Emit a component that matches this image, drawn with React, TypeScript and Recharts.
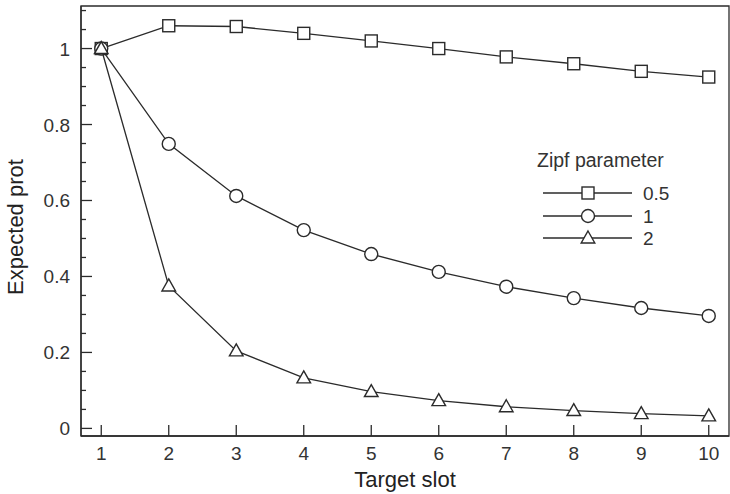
import React from "react";
import { LineChart, Line, XAxis, YAxis, ReferenceArea } from "recharts";

const slots = [1, 2, 3, 4, 5, 6, 7, 8, 9, 10];
const zipf05 = [1.0, 1.06, 1.058, 1.04, 1.02, 1.0, 0.978, 0.96, 0.94, 0.925];
const zipf1 = [1.0, 0.749, 0.612, 0.522, 0.459, 0.412, 0.373, 0.343, 0.317, 0.296];
const zipf2 = [1.0, 0.375, 0.204, 0.133, 0.097, 0.073, 0.057, 0.047, 0.039, 0.033];

const yLabels = [0, 0.2, 0.4, 0.6, 0.8, 1];
const yTicks = [0, 0.05, 0.1, 0.15, 0.2, 0.25, 0.3, 0.35, 0.4, 0.45, 0.5, 0.55, 0.6, 0.65, 0.7, 0.75, 0.8, 0.85, 0.9, 0.95, 1, 1.05, 1.1];
const seriesNames = ["0.5", "1", "2"];

const data = slots.map((s, i) => ({ slot: s, a: zipf05[i], b: zipf1[i], c: zipf2[i] }));

const INK = "#2b2b2b";
const FONT = "'Liberation Sans', Arial, sans-serif";

type Shape = "square" | "circle" | "triangle";

function marker(shape: Shape, cx: number, cy: number, key?: string | number) {
  const p = { fill: "#fff", stroke: INK, strokeWidth: 1.4 };
  if (shape === "square") return <rect key={key} x={cx - 6} y={cy - 6} width={12} height={12} {...p} />;
  if (shape === "circle") return <circle key={key} cx={cx} cy={cy} r={6.5} {...p} />;
  return <polygon key={key} points={`${cx},${cy - 7} ${cx + 6.8},${cy + 5} ${cx - 6.8},${cy + 5}`} {...p} />;
}

const dotFor = (shape: Shape) => (props: any) => marker(shape, props.cx, props.cy, props.key ?? props.index);

function YTick(props: any) {
  const { x, y, payload } = props;
  const v = payload.value;
  const major = yLabels.some((l) => Math.abs(l - v) < 1e-6);
  return (
    <g>
      <line x1={x} x2={x + (major ? 11 : 5)} y1={y} y2={y} stroke={INK} strokeWidth={1.3} />
      {major && (
        <text x={x - 11} y={y + 7} textAnchor="end" fontSize={19} fill="#333" fontFamily={FONT}>
          {v}
        </text>
      )}
    </g>
  );
}

function XTick(props: any) {
  const { x, y, payload } = props;
  return (
    <g>
      <line x1={x} x2={x} y1={y} y2={y - 11} stroke={INK} strokeWidth={1.3} />
      <text x={x} y={y + 24} textAnchor="middle" fontSize={19} fill="#333" fontFamily={FONT}>
        {payload.value}
      </text>
    </g>
  );
}

function LegendBox() {
  const shapes: Shape[] = ["square", "circle", "triangle"];
  const rows = [44, 67, 89];
  return (
    <svg width={195} height={110} style={{ position: "absolute", left: 530, top: 149 }}>
      <text x={7} y={18} fontSize={19.5} fill="#333" fontFamily={FONT}>Zipf parameter</text>
      {shapes.map((s, i) => (
        <g key={s}>
          <line x1={13} x2={102} y1={rows[i]} y2={rows[i]} stroke={INK} strokeWidth={1.3} />
          {marker(s, 58, rows[i])}
          <text x={113} y={rows[i] + 7} fontSize={19} fill="#333" fontFamily={FONT}>{seriesNames[i]}</text>
        </g>
      ))}
    </svg>
  );
}

export default function App() {
  return (
    <div style={{ position: "absolute", left: 0, top: 0, width: 730, height: 494, background: "#fff" }}>
      <LineChart width={730} height={494} data={data} margin={{ top: 6, right: 1, left: 0, bottom: 0 }}>
        <XAxis
          dataKey="slot"
          type="number"
          domain={[0.7, 10.3]}
          ticks={slots}
          allowDataOverflow
          height={58}
          tickSize={0}
          tickMargin={0}
          axisLine={{ stroke: INK, strokeWidth: 1.3 }}
          tickLine={false}
          tick={<XTick />}
          label={{ value: "Target slot", position: "insideBottom", offset: 7, fontSize: 22, fill: "#222", fontFamily: FONT }}
        />
        <YAxis
          type="number"
          domain={[-0.02, 1.112]}
          ticks={yTicks}
          allowDataOverflow
          width={81}
          tickSize={0}
          tickMargin={0}
          interval={0}
          axisLine={{ stroke: INK, strokeWidth: 1.3 }}
          tickLine={false}
          tick={<YTick />}
          label={(p: any) => {
            const vb = p.viewBox;
            const cy = vb.y + vb.height / 2 + 6;
            return (
              <text x={23} y={cy} transform={`rotate(-90 23 ${cy})`} textAnchor="middle" fontSize={22} fill="#222" fontFamily={FONT}>
                Expected prot
              </text>
            );
          }}
        />
        <ReferenceArea x1={0.7} x2={10.3} y1={-0.02} y2={1.112} fill="none" stroke={INK} strokeWidth={1.3} ifOverflow="visible" />
        <Line dataKey="a" name="0.5" stroke={INK} strokeWidth={1.3} dot={dotFor("square")} isAnimationActive={false} />
        <Line dataKey="b" name="1" stroke={INK} strokeWidth={1.3} dot={dotFor("circle")} isAnimationActive={false} />
        <Line dataKey="c" name="2" stroke={INK} strokeWidth={1.3} dot={dotFor("triangle")} isAnimationActive={false} />
      </LineChart>
      <LegendBox />
    </div>
  );
}
